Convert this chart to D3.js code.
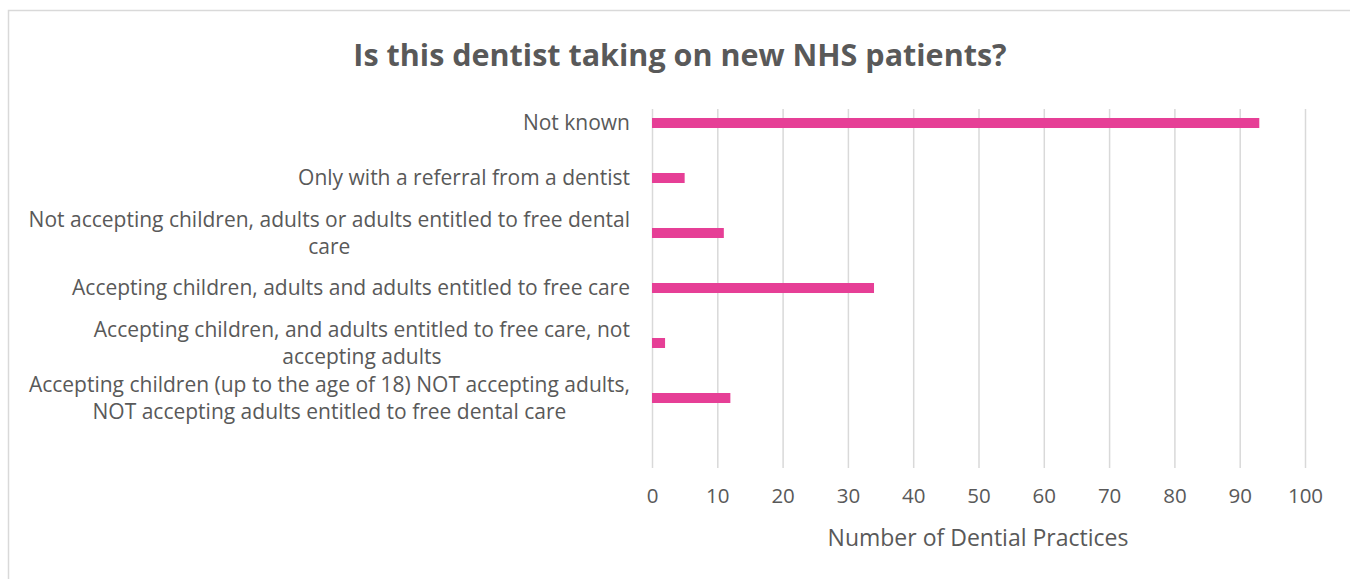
<!DOCTYPE html>
<html>
<head>
<meta charset="utf-8">
<script src="https://cdn.jsdelivr.net/npm/d3@7"></script>
<style>
  html, body { margin: 0; padding: 0; background: #fff; }
  svg { display: block; font-family: "Open Sans", Calibri, sans-serif; }
</style>
</head>
<body>
<svg id="chart" width="1350" height="579"></svg>
<script>
// data, top to bottom as shown
const categories = [
  "Not known",
  "Only with a referral from a dentist",
  "Not accepting children, adults or adults entitled to free dental\ncare",
  "Accepting children, adults and adults entitled to free care",
  "Accepting children, and adults entitled to free care, not\naccepting adults",
  "Accepting children (up to the age of 18) NOT accepting adults,\nNOT accepting adults entitled to free dental care"
];
const practices = [93, 5, 11, 34, 2, 12];
const xTicks = [0, 10, 20, 30, 40, 50, 60, 70, 80, 90, 100];

const TITLE = "Is this dentist taking on new NHS patients?";
const X_TITLE = "Number of Dential Practices";

const TEXT = "#595959", GRID = "#d9d9d9", BAR = "#e63f96";
const FONT = "\"Open Sans\", Calibri, sans-serif";
const plot = { left: 652, right: 1305, top: 109, bottom: 468 };

const svg = d3.select("#chart");

// outer frame (partly cut off like the source)
svg.append("rect")
  .attr("x", 8.5).attr("y", 10.5).attr("width", 1400).attr("height", 600)
  .attr("fill", "none").attr("stroke", GRID).attr("stroke-width", 1.5);

svg.append("text")
  .attr("x", 680).attr("y", 66)
  .attr("text-anchor", "middle")
  .attr("font-size", 30.5).attr("font-weight", 700)
  .attr("fill", TEXT)
  .text(TITLE);

const x = d3.scaleLinear().domain([0, 100]).range([plot.left, plot.right]);
const y = d3.scaleBand().domain(categories).range([95.5, 425.5])
  .paddingInner(0.818).paddingOuter(0.409);

// gridlines
svg.append("g")
  .attr("transform", `translate(0,${plot.bottom})`)
  .call(d3.axisBottom(x).tickValues(xTicks).tickSize(-(plot.bottom - plot.top)).tickFormat(""))
  .call(g => g.select(".domain").remove())
  .call(g => g.selectAll("line").attr("stroke", GRID).attr("stroke-width", 1.5));

// x tick labels
svg.append("g")
  .attr("transform", `translate(0,${plot.bottom})`)
  .call(d3.axisBottom(x).tickValues(xTicks).tickSize(0).tickPadding(20))
  .call(g => g.select(".domain").remove())
  .call(g => g.selectAll("text")
    .attr("font-family", FONT)
    .attr("font-size", 20.5).attr("fill", TEXT));

svg.append("text")
  .attr("x", 978).attr("y", 546)
  .attr("text-anchor", "middle")
  .attr("font-size", 23).attr("fill", TEXT)
  .text(X_TITLE);

// bars
svg.append("g").selectAll("rect")
  .data(categories)
  .join("rect")
  .attr("x", x(0))
  .attr("y", d => y(d))
  .attr("width", (d, i) => x(practices[i]) - x(0))
  .attr("height", y.bandwidth())
  .attr("fill", BAR);

// category labels: lines centred on each other, block right-aligned
const lineH = 27, pad = 22;
const yAxis = svg.append("g")
  .attr("transform", `translate(${plot.left},0)`)
  .call(d3.axisLeft(y).tickSize(0).tickPadding(pad))
  .call(g => g.select(".domain").remove());

yAxis.selectAll(".tick text").each(function (d) {
  const t = d3.select(this);
  const lines = d.split("\n");
  t.text(null)
    .attr("font-family", FONT)
    .attr("font-size", 21).attr("fill", TEXT)
    .attr("text-anchor", "middle").attr("dy", null);
  lines.forEach((ln, i) => {
    t.append("tspan")
      .attr("x", 0)
      .attr("y", (i - (lines.length - 1) / 2) * lineH)
      .attr("dy", "0.35em")
      .text(ln);
  });
  const w = this.getBBox().width;
  t.selectAll("tspan").attr("x", -(pad + w / 2));
});
</script>
</body>
</html>
